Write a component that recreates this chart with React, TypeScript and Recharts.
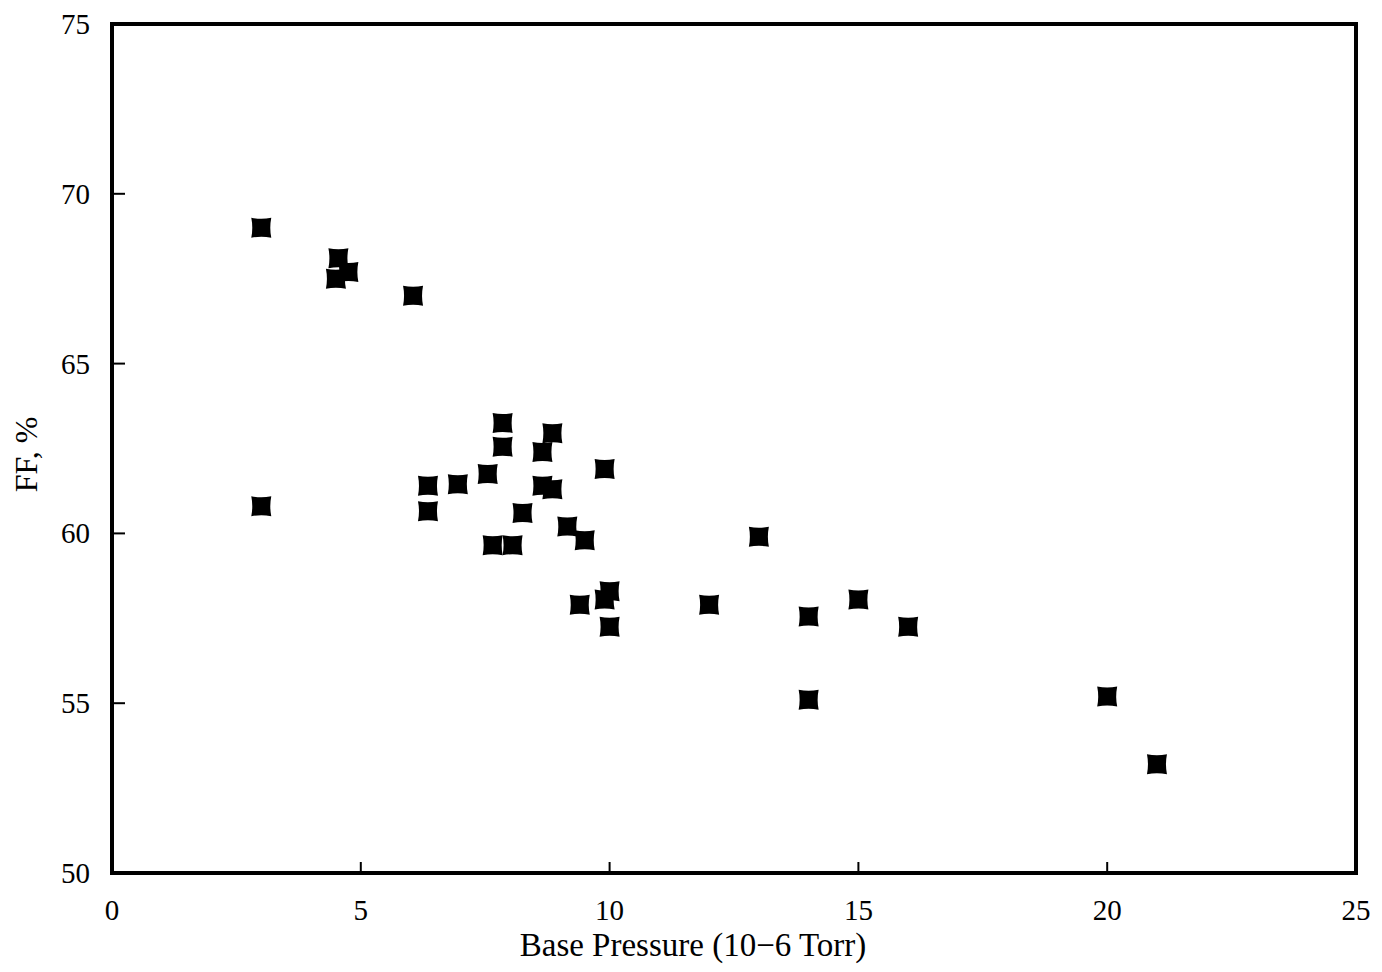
import React from 'react';
import {
  ScatterChart,
  Scatter,
  XAxis,
  YAxis,
  ReferenceArea,
} from 'recharts';

// base pressure (10^-6 Torr) and fill factor (%)
const basePressure = [
  3.0, 3.0, 4.55, 4.5, 4.75, 6.05, 7.85, 7.85, 8.85, 8.65, 9.9, 7.55,
  6.95, 6.35, 6.35, 8.65, 8.85, 8.25, 9.15, 9.5, 7.65, 8.05, 10.0, 9.9,
  9.4, 10.0, 12.0, 13.0, 14.0, 15.0, 16.0, 14.0, 20.0, 21.0,
];
const fillFactor = [
  69.0, 60.8, 68.1, 67.5, 67.7, 67.0, 63.25, 62.55, 62.95, 62.4, 61.9, 61.75,
  61.45, 61.4, 60.65, 61.4, 61.3, 60.6, 60.2, 59.8, 59.65, 59.65, 58.3, 58.05,
  57.9, 57.25, 57.9, 59.9, 57.55, 58.05, 57.25, 55.1, 55.2, 53.2,
];
const xTicks = [0, 5, 10, 15, 20, 25];
const yTicks = [50, 55, 60, 65, 70, 75];

const points = basePressure.map((x, i) => ({ x, y: fillFactor[i] }));

const FONT = '"Liberation Serif", "DejaVu Serif", serif';

// square marker with slightly pinched sides, like the scanned symbols
const Marker = (props: any) => {
  const { cx, cy } = props;
  const h = 10;
  const p = 2;
  return (
    <path
      d={`M${cx - h},${cy - h} Q${cx},${cy - h + p} ${cx + h},${cy - h} Q${cx + h - p},${cy} ${cx + h},${cy + h} Q${cx},${cy + h - p} ${cx - h},${cy + h} Q${cx - h + p},${cy} ${cx - h},${cy - h} Z`}
      fill="#000"
    />
  );
};

const XTick = (props: any) => {
  const { x, y, payload } = props;
  return (
    <g>
      <line x1={x} y1={y} x2={x} y2={y - 11} stroke="#000" strokeWidth={2} />
      <text x={x} y={y + 47} textAnchor="middle" fontFamily={FONT} fontSize={29} fill="#000">
        {payload.value}
      </text>
    </g>
  );
};

const YTick = (props: any) => {
  const { x, y, payload } = props;
  return (
    <g>
      <line x1={x} y1={y} x2={x + 13} y2={y} stroke="#000" strokeWidth={2} />
      <text x={x - 22} y={y + 10} textAnchor="end" fontFamily={FONT} fontSize={29} fill="#000">
        {payload.value}
      </text>
    </g>
  );
};

export default function App() {
  return (
    <div style={{ width: 1366, height: 956, background: '#fff' }}>
      <ScatterChart width={1366} height={956} margin={{ top: 16, right: 18, bottom: 0, left: 0 }}>
        <XAxis
          type="number"
          dataKey="x"
          domain={[0, 25]}
          ticks={xTicks}
          height={91}
          axisLine={false}
          tickLine={false}
          tickSize={0}
          tickMargin={0}
          tick={<XTick />}
          label={{
            content: (p: any) => {
              const vb = p.viewBox;
              return (
                <text
                  x={vb.x + vb.width / 2 - 41}
                  y={vb.y + 83}
                  textAnchor="middle"
                  fontFamily={FONT}
                  fontSize={33}
                  fill="#000"
                >
                  Base Pressure (10−6 Torr)
                </text>
              );
            },
          }}
        />
        <YAxis
          type="number"
          dataKey="y"
          domain={[50, 75]}
          ticks={yTicks}
          width={104}
          axisLine={false}
          tickLine={false}
          tickSize={0}
          tickMargin={0}
          tick={<YTick />}
          label={{
            content: (p: any) => {
              const vb = p.viewBox;
              const cx = vb.x + 18;
              const cy = vb.y + vb.height / 2 + 6;
              return (
                <text
                  x={cx}
                  y={cy}
                  transform={`rotate(-90, ${cx}, ${cy})`}
                  textAnchor="middle"
                  dominantBaseline="central"
                  fontFamily={FONT}
                  fontSize={32}
                  fill="#000"
                >
                  FF, %
                </text>
              );
            },
          }}
        />
        <ReferenceArea
          x1={0}
          x2={25}
          y1={50}
          y2={75}
          fill="none"
          fillOpacity={0}
          stroke="#000"
          strokeWidth={4}
        />
        <Scatter data={points} shape={<Marker />} isAnimationActive={false} />
      </ScatterChart>
    </div>
  );
}
